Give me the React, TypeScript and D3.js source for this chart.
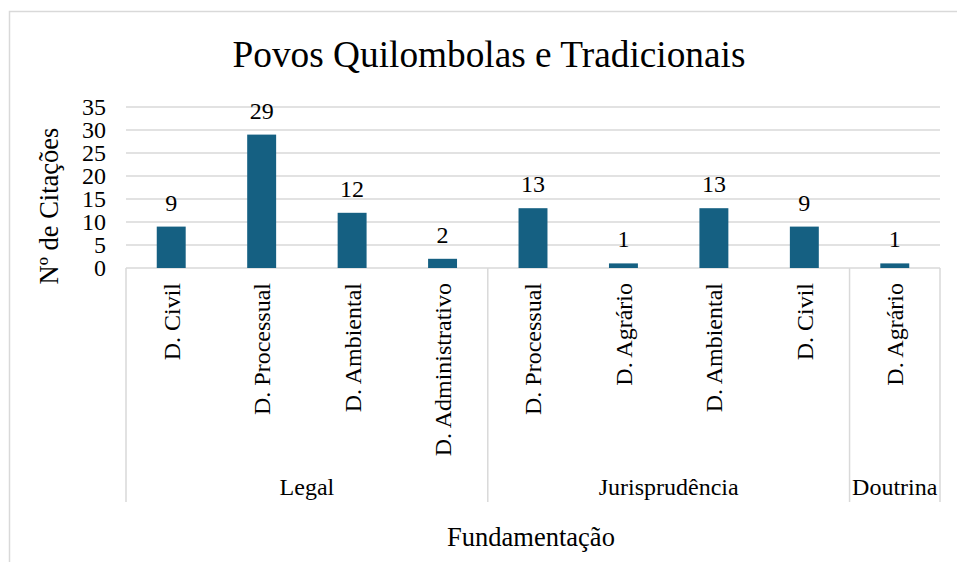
import React from "react";
import * as d3 from "d3";

const categories = ["D. Civil", "D. Processual", "D. Ambiental", "D. Administrativo", "D. Processual", "D. Agrário", "D. Ambiental", "D. Civil", "D. Agrário"];
const values = [9, 29, 12, 2, 13, 1, 13, 9, 1];
const groupNames = ["Legal", "Jurisprudência", "Doutrina"];
const groupSizes = [4, 4, 1];
const yTicks = [0, 5, 10, 15, 20, 25, 30, 35];
const title = "Povos Quilombolas e Tradicionais";
const yTitle = "Nº de Citações";
const xTitle = "Fundamentação";

const W = 957;
const H = 562;
const FONT = "'Liberation Serif', 'Times New Roman', serif";
const GRID = "#d9d9d9";
const BAR = "#156082";

export default function App() {
  const left = 126;
  const right = 940;
  const top = 107;
  const bottom = 268;
  const sepBottom = 502;

  const x = d3
    .scaleBand<number>()
    .domain(categories.map((_, i) => i))
    .range([left, right])
    .paddingInner(0.68)
    .paddingOuter(0.34);
  const y = d3.scaleLinear().domain([0, 35]).range([bottom, top]);
  const step = x.step();

  const bounds: number[] = [0];
  groupSizes.forEach((s) => bounds.push(bounds[bounds.length - 1] + s));

  return (
    <svg
      width={W}
      height={H}
      style={{ position: "absolute", left: 0, top: 0, background: "#fff" }}
      fontFamily={FONT}
    >
      <rect x={0} y={0} width={W} height={H} fill="#fff" />
      <path d={`M9.5,${H + 2} V11.5 H${W + 2}`} fill="none" stroke={GRID} strokeWidth={1.5} />
      <text x={489} y={67} textAnchor="middle" fontSize={37.3} fill="#000">
        {title}
      </text>
      {yTicks.map((t) => (
        <g key={t}>
          <line x1={left} x2={right} y1={y(t)} y2={y(t)} stroke={GRID} strokeWidth={1.5} />
          <text x={106} y={y(t)} dy="0.35em" textAnchor="end" fontSize={24} fill="#000">
            {t}
          </text>
        </g>
      ))}
      {values.map((v, i) => {
        const bx = x(i) as number;
        const bw = x.bandwidth();
        return (
          <g key={i}>
            <rect x={bx} y={y(v)} width={bw} height={y(0) - y(v)} fill={BAR} />
            <text x={bx + bw / 2} y={y(v) - 16} textAnchor="middle" fontSize={24} fill="#000">
              {v}
            </text>
          </g>
        );
      })}
      {categories.map((c, i) => {
        const cx = (x(i) as number) + x.bandwidth() / 2;
        return (
          <text
            key={i}
            transform={`translate(${cx},283) rotate(-90)`}
            dy="0.35em"
            textAnchor="end"
            fontSize={24}
            fill="#000"
          >
            {c}
          </text>
        );
      })}
      {bounds.map((b, i) => {
        const bxp = left + b * step;
        return <line key={i} x1={bxp} x2={bxp} y1={bottom} y2={sepBottom} stroke={GRID} strokeWidth={1.5} />;
      })}
      {groupNames.map((g, i) => {
        const cx = left + ((bounds[i] + bounds[i + 1]) / 2) * step;
        return (
          <text key={g} x={cx} y={495} textAnchor="middle" fontSize={24} fill="#000">
            {g}
          </text>
        );
      })}
      <text x={531} y={546} textAnchor="middle" fontSize={26.5} fill="#000">
        {xTitle}
      </text>
      <text transform={`translate(58,206) rotate(-90)`} textAnchor="middle" fontSize={26.5} fill="#000">
        {yTitle}
      </text>
    </svg>
  );
}
